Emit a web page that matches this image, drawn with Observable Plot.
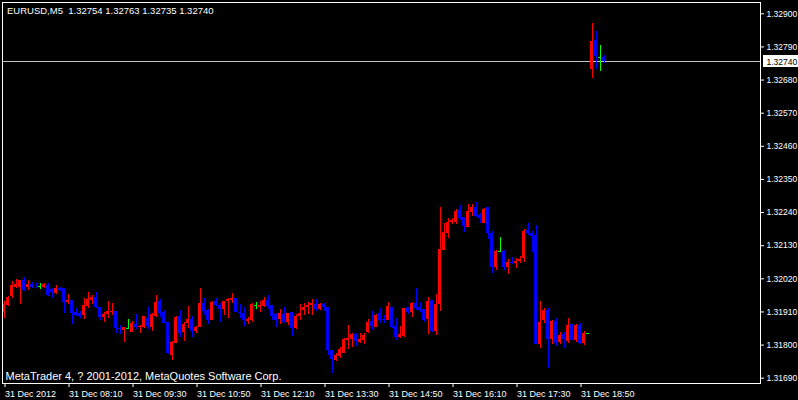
<!DOCTYPE html>
<html>
<head>
<meta charset="utf-8">
<script src="https://cdn.jsdelivr.net/npm/d3@7"></script>
<script src="https://cdn.jsdelivr.net/npm/@observablehq/plot@0.6"></script>
<style>
html, body { margin: 0; padding: 0; background: #000; overflow: hidden; }
svg { display: block; }
</style>
</head>
<body>
<div id="chart"></div>
<script>
const symbol = "EURUSD";
const period = "M5";
const copyright = "MetaTrader 4, ? 2001-2012, MetaQuotes Software Corp.";

const open = [
1.31909,1.31932,1.31961,1.31991,1.31992,1.32015,1.31992,1.32001,1.31996,1.31993,
1.31992,1.31998,1.31984,1.31971,1.31989,1.31987,1.31943,1.31948,1.31907,1.31906,
1.31898,1.31929,1.31949,1.31959,1.31926,1.31893,1.31902,1.31908,1.31912,1.31856,
1.31847,1.31855,1.31843,1.31868,1.31857,1.31860,1.31889,1.31860,1.31896,1.31945,
1.31908,1.31875,1.31764,1.31806,1.31894,1.31841,1.31871,1.31885,1.31846,1.31860,
1.31937,1.31915,1.31883,1.31945,1.31932,1.31919,1.31945,1.31949,1.31955,1.31909,
1.31904,1.31877,1.31882,1.31930,1.31926,1.31929,1.31948,1.31932,1.31902,1.31886,
1.31902,1.31875,1.31907,1.31856,1.31896,1.31915,1.31924,1.31930,1.31934,1.31917,
1.31935,1.31924,1.31782,1.31749,1.31763,1.31772,1.31815,1.31818,1.31836,1.31809,
1.31815,1.31842,1.31878,1.31860,1.31906,1.31885,1.31883,1.31925,1.31862,1.31826,
1.31828,1.31925,1.31907,1.31938,1.31924,1.31918,1.31886,1.31947,1.31845,1.31934,
1.32115,1.32172,1.32206,1.32208,1.32246,1.32223,1.32192,1.32241,1.32256,1.32230,
1.32205,1.32257,1.32169,1.32059,1.32110,1.32111,1.32059,1.32075,1.32070,1.32078,
1.32089,1.32181,1.32172,1.32164,1.31802,1.31880,1.31915,1.31819,1.31878,1.31810,
1.31835,1.31813,1.31868,1.31815,1.31865,1.31804,1.31837,1.32715,1.32811,1.32754,
1.32754];

const high = [
1.31945,1.31960,1.32011,1.32018,1.32015,1.32023,1.32015,1.32007,1.32003,1.32005,
1.32005,1.32003,1.31987,1.31998,1.31992,1.31989,1.31967,1.31948,1.31923,1.31913,
1.31956,1.31975,1.31965,1.31974,1.31926,1.31909,1.31946,1.31939,1.31912,1.31865,
1.31860,1.31885,1.31878,1.31903,1.31865,1.31896,1.31924,1.31904,1.31966,1.31950,
1.31915,1.31876,1.31813,1.31894,1.31914,1.31876,1.31928,1.31894,1.31862,1.31989,
1.31955,1.31919,1.31944,1.31956,1.31937,1.31946,1.31954,1.31971,1.31955,1.31935,
1.31926,1.31893,1.31937,1.31942,1.31945,1.31959,1.31963,1.31932,1.31906,1.31918,
1.31924,1.31906,1.31907,1.31902,1.31935,1.31937,1.31940,1.31951,1.31950,1.31939,
1.31939,1.31926,1.31782,1.31772,1.31793,1.31821,1.31866,1.31839,1.31837,1.31840,
1.31837,1.31885,1.31912,1.31901,1.31920,1.31898,1.31941,1.31925,1.31887,1.31862,
1.31923,1.31925,1.31940,1.31988,1.31940,1.31918,1.31957,1.31948,1.31969,1.32257,
1.32204,1.32219,1.32219,1.32250,1.32262,1.32223,1.32267,1.32267,1.32272,1.32236,
1.32254,1.32257,1.32177,1.32114,1.32157,1.32114,1.32083,1.32090,1.32086,1.32094,
1.32183,1.32205,1.32176,1.32197,1.31946,1.31923,1.31922,1.31882,1.31889,1.31842,
1.31843,1.31889,1.31868,1.31868,1.31873,1.31845,1.31837,1.32869,1.32841,1.32795,
1.32763];

const low = [
1.31889,1.31929,1.31956,1.31987,1.31934,1.31979,1.31981,1.31989,1.31989,1.31985,
1.31987,1.31961,1.31954,1.31968,1.31978,1.31906,1.31934,1.31868,1.31896,1.31887,
1.31884,1.31920,1.31934,1.31920,1.31883,1.31874,1.31889,1.31898,1.31840,1.31834,
1.31810,1.31851,1.31841,1.31852,1.31837,1.31854,1.31851,1.31846,1.31893,1.31891,
1.31873,1.31769,1.31750,1.31804,1.31826,1.31813,1.31856,1.31826,1.31840,1.31858,
1.31897,1.31867,1.31882,1.31929,1.31876,1.31899,1.31889,1.31939,1.31907,1.31887,
1.31863,1.31868,1.31875,1.31918,1.31908,1.31926,1.31917,1.31882,1.31857,1.31868,
1.31873,1.31864,1.31830,1.31853,1.31882,1.31898,1.31902,1.31899,1.31912,1.31915,
1.31913,1.31764,1.31705,1.31747,1.31757,1.31771,1.31784,1.31791,1.31795,1.31804,
1.31802,1.31840,1.31849,1.31858,1.31871,1.31870,1.31881,1.31856,1.31815,1.31823,
1.31826,1.31901,1.31892,1.31916,1.31907,1.31875,1.31836,1.31843,1.31832,1.31912,
1.32114,1.32155,1.32202,1.32199,1.32213,1.32175,1.32192,1.32228,1.32224,1.32204,
1.32203,1.32150,1.32039,1.32048,1.32109,1.32046,1.32034,1.32068,1.32053,1.32072,
1.32074,1.32164,1.32109,1.31802,1.31790,1.31871,1.31723,1.31802,1.31795,1.31802,
1.31787,1.31806,1.31815,1.31810,1.31802,1.31799,1.31837,1.32686,1.32715,1.32710,
1.32735];

const close = [
1.31934,1.31957,1.31998,1.32001,1.32013,1.31981,1.32001,1.31992,1.31993,1.31993,
1.32001,1.31963,1.31974,1.31987,1.31981,1.31940,1.31949,1.31906,1.31899,1.31895,
1.31932,1.31951,1.31959,1.31926,1.31893,1.31902,1.31912,1.31912,1.31856,1.31851,
1.31859,1.31855,1.31873,1.31857,1.31863,1.31895,1.31863,1.31902,1.31942,1.31906,
1.31873,1.31771,1.31810,1.31892,1.31840,1.31868,1.31884,1.31846,1.31859,1.31939,
1.31912,1.31880,1.31942,1.31932,1.31918,1.31944,1.31951,1.31955,1.31909,1.31904,
1.31880,1.31885,1.31935,1.31930,1.31933,1.31948,1.31929,1.31896,1.31883,1.31904,
1.31875,1.31905,1.31856,1.31895,1.31906,1.31926,1.31933,1.31937,1.31917,1.31935,
1.31924,1.31782,1.31751,1.31766,1.31785,1.31818,1.31823,1.31835,1.31813,1.31819,
1.31832,1.31875,1.31862,1.31898,1.31882,1.31881,1.31928,1.31860,1.31826,1.31835,
1.31920,1.31907,1.31938,1.31920,1.31914,1.31882,1.31945,1.31845,1.31934,1.32117,
1.32174,1.32206,1.32214,1.32244,1.32219,1.32194,1.32244,1.32256,1.32228,1.32220,
1.32250,1.32172,1.32059,1.32111,1.32110,1.32059,1.32073,1.32070,1.32078,1.32084,
1.32177,1.32169,1.32162,1.31802,1.31875,1.31915,1.31819,1.31878,1.31806,1.31832,
1.31818,1.31865,1.31815,1.31865,1.31804,1.31837,1.31837,1.32808,1.32759,1.32754,
1.32740];

const priceTicks = [1.32900, 1.32790, 1.32680, 1.32570, 1.32460, 1.32350, 1.32240, 1.32130, 1.32020, 1.31910, 1.31800, 1.31690];
const timeTickBars = [0, 16, 32, 48, 64, 80, 96, 112, 128, 144];
const timeTickLabels = ["31 Dec 2012", "31 Dec 08:10", "31 Dec 09:30", "31 Dec 10:50", "31 Dec 12:10", "31 Dec 13:30", "31 Dec 14:50", "31 Dec 16:10", "31 Dec 17:30", "31 Dec 18:50"];

const bars = open.map((o, i) => ({i, o, h: high[i], l: low[i], c: close[i]}));
const colorOf = d => d.c > d.o ? "#ff0000" : d.c < d.o ? "#0000ff" : "#00ff00";
const last = bars[bars.length - 1];
const header = `${symbol},${period}\u00a0 ${last.o.toFixed(5)} ${last.h.toFixed(5)} ${last.l.toFixed(5)} ${last.c.toFixed(5)}`;
const labelMap = new Map(timeTickBars.map((b, k) => [b, timeTickLabels[k]]));
const font = "'Liberation Sans', Arial, sans-serif";
const svgns = "http://www.w3.org/2000/svg";

// white box behind the current-price label, placed with the y scale
function priceBox(index, scales, values, dims) {
  const y = scales.y(last.c);
  const r = document.createElementNS(svgns, "rect");
  const x0 = dims.width - dims.marginRight + 3;
  r.setAttribute("x", x0);
  r.setAttribute("y", Math.round(y) - 6);
  r.setAttribute("width", dims.width - x0);
  r.setAttribute("height", 12);
  r.setAttribute("fill", "#fff");
  return r;
}

const chart = Plot.plot({
  width: 798,
  height: 400,
  marginLeft: 2,
  marginRight: 38,
  marginTop: 2,
  marginBottom: 17,
  style: {background: "#000", color: "#fff", fontFamily: font, fontSize: "8.5px"},
  x: {type: "linear", domain: [-0.375, 189.125], axis: null, label: null},
  y: {domain: [1.316724, 1.329375], axis: null, label: null},
  marks: [
    Plot.ruleY([last.c], {stroke: "#c0c0c0", shapeRendering: "crispEdges"}),
    Plot.ruleX(bars, {x: "i", y1: "l", y2: "h", stroke: colorOf, shapeRendering: "crispEdges"}),
    Plot.rect(bars.filter(d => d.o !== d.c), {
      x1: d => d.i - 0.375, x2: d => d.i + 0.375, y1: "o", y2: "c",
      fill: colorOf, shapeRendering: "crispEdges"
    }),
    Plot.ruleY(bars.filter(d => d.o === d.c), {
      y: "c", x1: d => d.i - 0.375, x2: d => d.i + 0.375,
      stroke: "#00ff00", shapeRendering: "crispEdges"
    }),
    Plot.axisY(priceTicks, {
      anchor: "right", tickSize: 3, tickPadding: 3, label: null,
      tickFormat: d => d.toFixed(5), stroke: "#fff", fill: "#fff", fontSize: 8.5
    }),
    Plot.axisX(timeTickBars, {
      anchor: "bottom", tickSize: 4, tickPadding: 3, label: null,
      tickFormat: d => labelMap.get(d), textAnchor: "start", dx: 1,
      stroke: "#fff", fill: "#fff", fontSize: 9
    }),
    Plot.frame({stroke: "#fff", shapeRendering: "crispEdges"}),
    Plot.text([header], {frameAnchor: "top-left", lineAnchor: "top", dx: 4.5, dy: 5, fill: "#fff", fontSize: 9.5}),
    Plot.text([copyright], {frameAnchor: "bottom-left", lineAnchor: "bottom", dx: 3, dy: -4, fill: "#fff", fontSize: 11}),
    priceBox,
    Plot.text([last.c], {
      y: d => d, frameAnchor: "right", textAnchor: "start", dx: 6,
      text: d => d.toFixed(5), fill: "#000", fontSize: 8.5
    })
  ]
});

document.getElementById("chart").append(chart);
</script>
</body>
</html>
